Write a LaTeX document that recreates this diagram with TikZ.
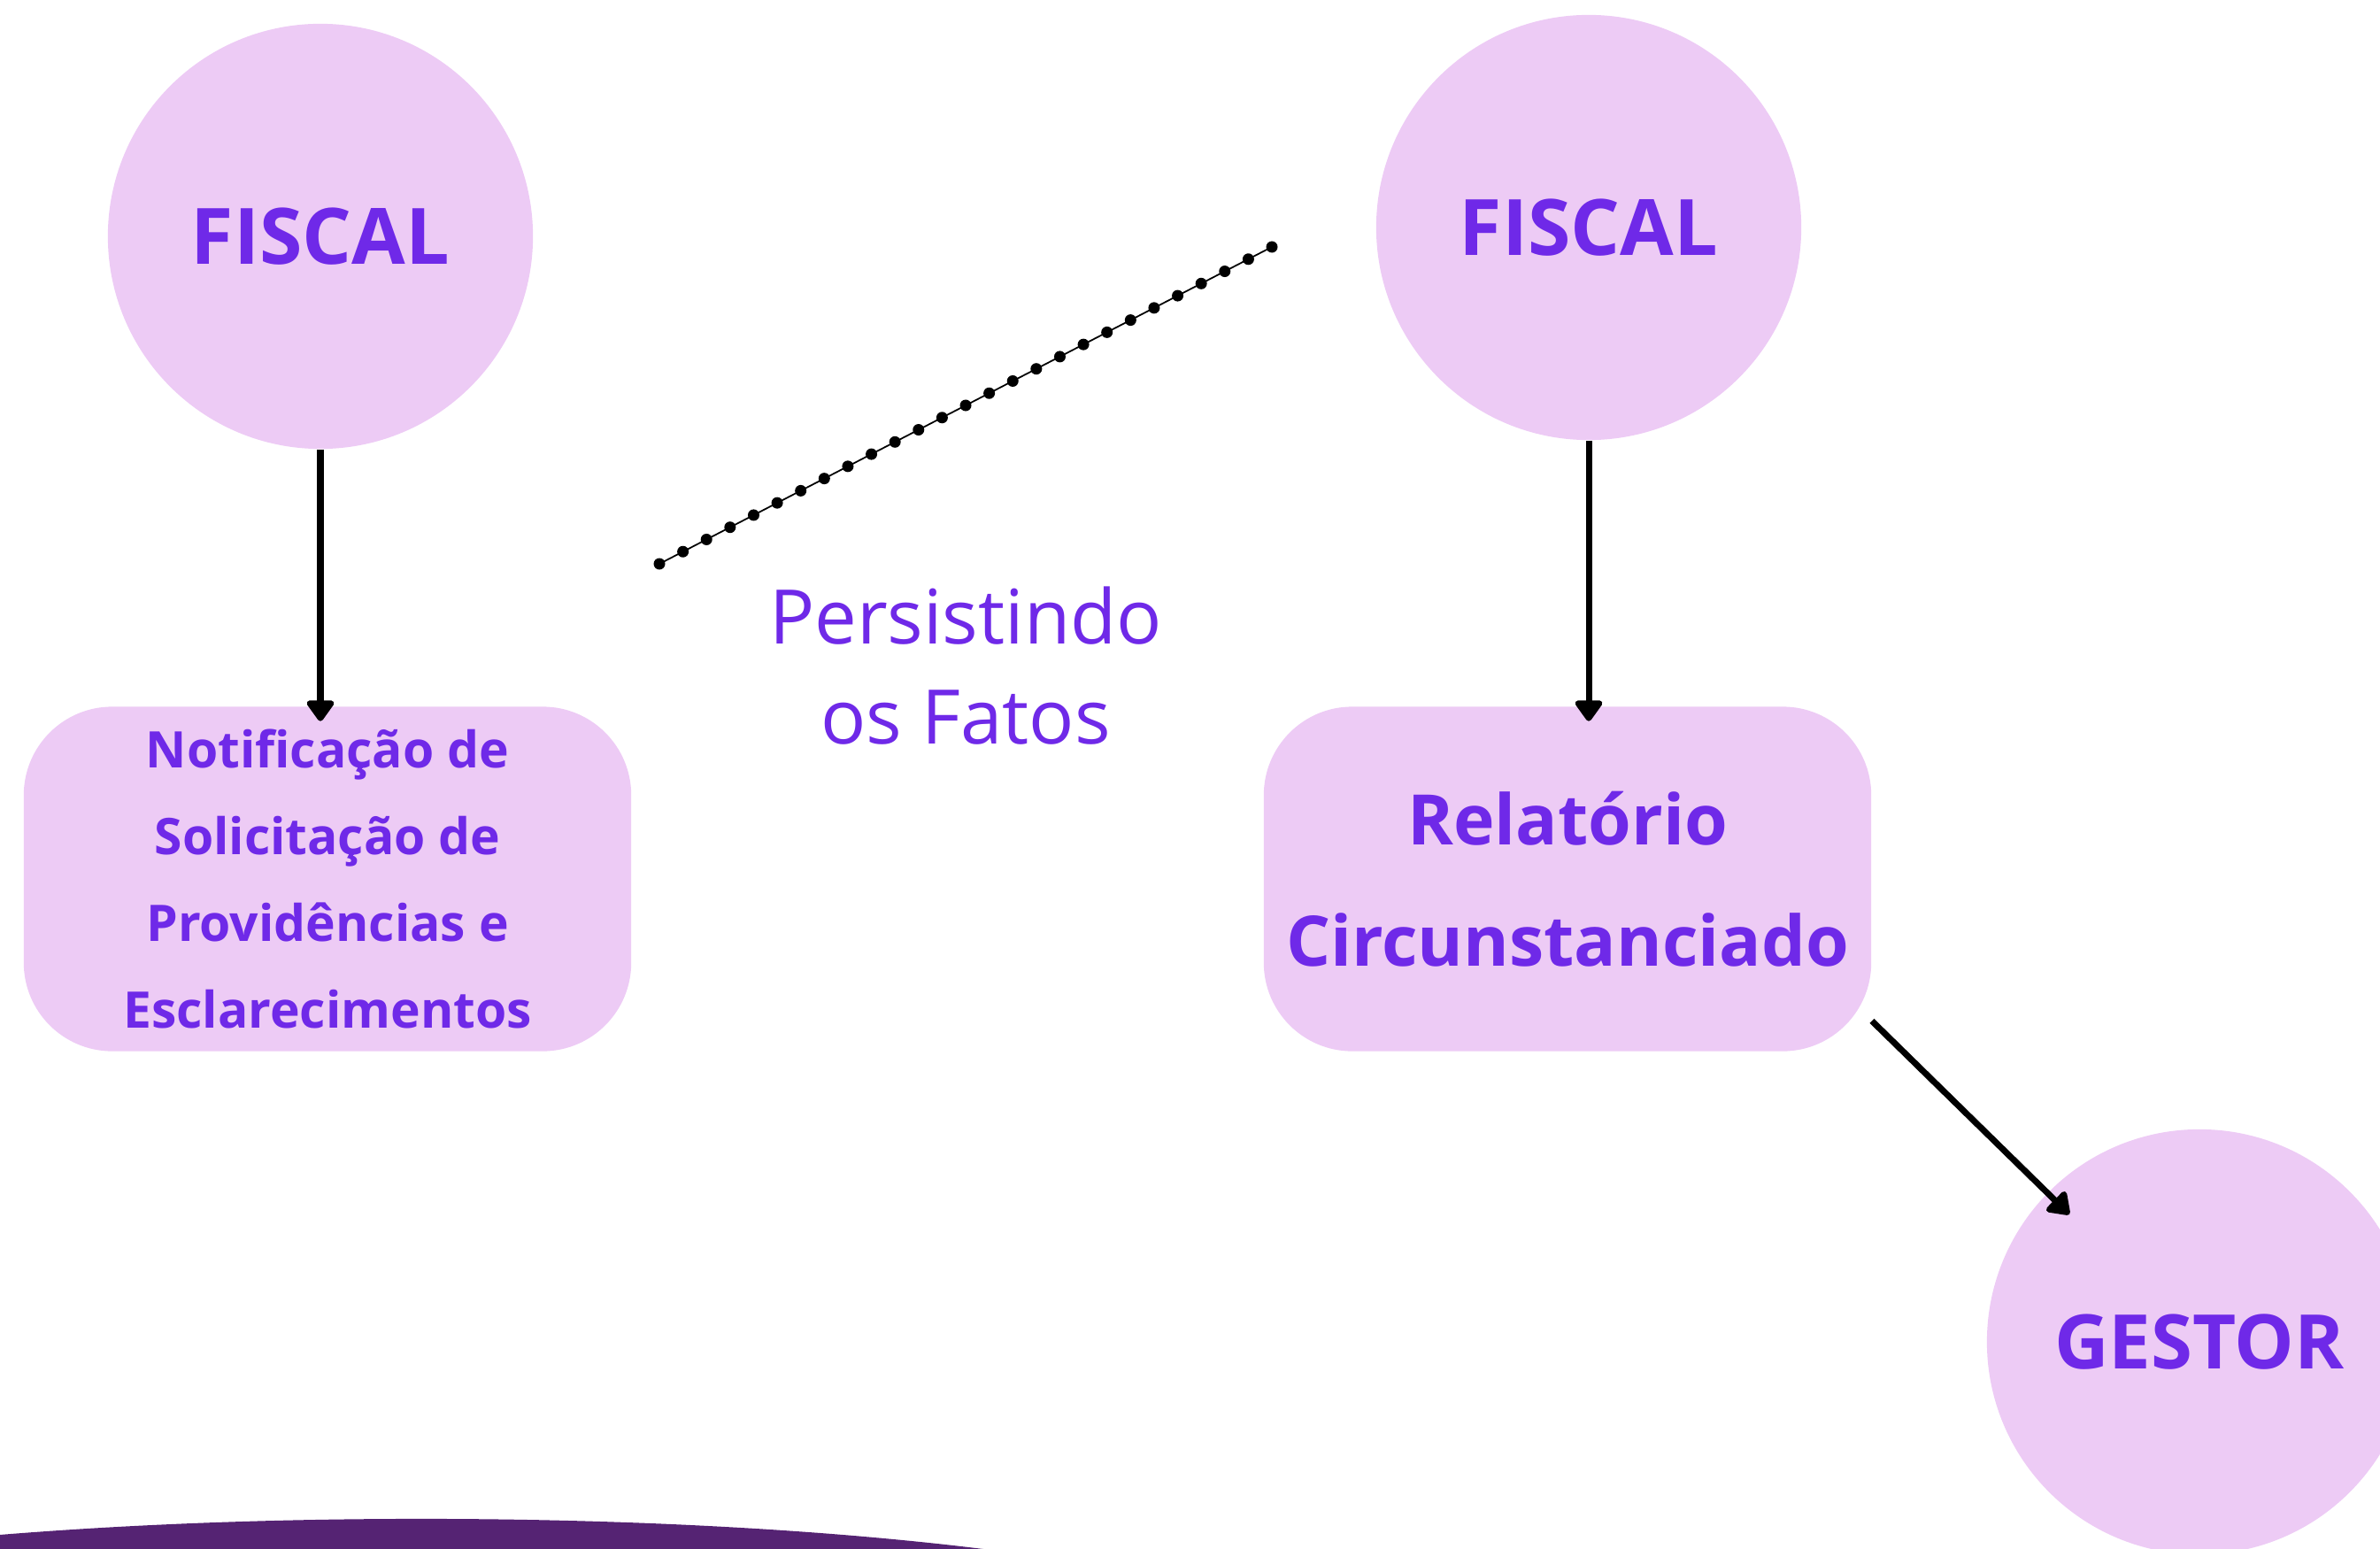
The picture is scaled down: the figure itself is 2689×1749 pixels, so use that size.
\documentclass[tikz,border=0pt]{standalone}
\usepackage{fontspec}
\setmainfont{Open Sans}
\usetikzlibrary{arrows.meta,calc}

\definecolor{lilac}{RGB}{237,203,245}
\definecolor{inkpurple}{RGB}{111,41,232}
\definecolor{deeppurple}{RGB}{85,35,115}

\begin{document}
\begin{tikzpicture}[x=0.01cm,y=-0.01cm,
    bubble/.style={circle,fill=lilac,minimum size=4.8cm,inner sep=0pt,
      text=inkpurple,font=\bfseries\fontsize{25}{30}\selectfont},
    card/.style={rectangle,rounded corners=1cm,fill=lilac,minimum width=6.86cm,
      minimum height=3.89cm,inner sep=0pt,align=center,text=inkpurple},
    flowarrow/.style={line width=2pt,-{Triangle[width=0.35cm,length=0.26cm,round]},
      shorten >=-0.17cm}]
  \clip (0,0) rectangle (2689,1749);

  % Draw the purple band at the bottom
  \fill[deeppurple] (476,1866) ellipse [x radius=10cm, y radius=1.5cm];

  % Draw the circles
  \node[bubble] (fiscalA) at (362,267) {FISCAL};
  \node[bubble] (fiscalB) at (1795,257) {FISCAL};
  \node[bubble,font=\bfseries\fontsize{24.2}{29}\selectfont] (gestor) at (2485,1516) {GESTOR};

  % Draw the boxes
  \node[card,font=\bfseries\fontsize{16.2}{27.9}\selectfont] (notif) at (370,993)
    {Notificação de\\Solicitação de\\Providências e\\Esclarecimentos};
  \node[card,font=\bfseries\fontsize{22.4}{39}\selectfont] (rel) at (1771,993)
    {Relatório\\Circunstanciado};

  % Draw the label
  \node[align=center,text=inkpurple,font=\fontsize{24.2}{32.1}\selectfont] (persist) at (1091,752)
    {Persistindo\\os Fatos};

  % Draw the dotted line
  \coordinate (dotA) at (745,637);
  \coordinate (dotB) at (1437,279);
  \draw[line width=0.5pt] (dotA) -- (dotB);
  \foreach \i in {0,...,26}
    \fill ($(dotA)!\i/26!(dotB)$) circle (0.065cm);

  % Draw the arrows
  \draw[flowarrow] (fiscalA) -- (fiscalA |- notif.north);
  \draw[flowarrow] (fiscalB) -- (fiscalB |- rel.north);
  \draw[flowarrow,shorten >=-0.35cm] (rel.-25) -- (gestor);
\end{tikzpicture}
\end{document}
